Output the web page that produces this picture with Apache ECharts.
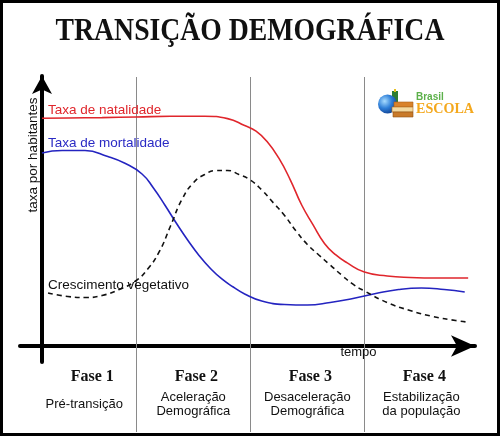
<!DOCTYPE html>
<html><head><meta charset="utf-8">
<script src="https://cdn.jsdelivr.net/npm/echarts@6/dist/echarts.min.js"></script>
<style>html,body{margin:0;padding:0;background:#fff}#c{width:500px;height:436px}</style>
</head><body><div id="c"></div>
<script>
const titleText = 'TRANSIÇÃO DEMOGRÁFICA';
const axisYName = 'taxa por habitantes';
const axisXName = 'tempo';
const phaseNames = ['Fase 1', 'Fase 2', 'Fase 3', 'Fase 4'];
const phaseDescriptions = [['Pré-transição'], ['Aceleração', 'Demográfica'], ['Desaceleração', 'Demográfica'], ['Estabilização', 'da população']];
const phaseStarts = [1.75, 10, 20, 30];
const phaseEnds = [10, 20, 30, 40];
const phaseBoundaries = [10, 20, 30];
const seriesNames = ['Taxa de natalidade', 'Taxa de mortalidade', 'Crescimento vegetativo'];
const birthRate = [[1.73, 37.95], [4, 38.0], [7, 38.07], [10, 38.17], [13, 38.28], [16, 38.3], [18, 37.9], [19.5, 36.75], [20.5, 35.8], [21.5, 34.0], [22.5, 31.3], [23.5, 27.7], [24.5, 23.5], [25.5, 20.2], [26.5, 17.1], [27.5, 15.17], [28.5, 13.85], [30, 12.33], [32, 11.67], [34, 11.42], [36.5, 11.33], [39.1, 11.33]];
const deathRate = [[1.73, 32.17], [3.5, 32.58], [5.5, 32.58], [7.5, 31.58], [9, 30.45], [10.5, 28.67], [11.5, 26.33], [12.5, 23.5], [13.5, 20.5], [14.5, 17.67], [15.5, 15.08], [16.5, 12.92], [17.5, 11.17], [18.5, 9.83], [19.5, 8.67], [21, 7.5], [23, 6.92], [25, 6.83], [27, 7.25], [29, 7.92], [31, 8.75], [33, 9.42], [35, 9.67], [37, 9.42], [38.8, 9.0]];
const naturalGrowth = [[2.26, 8.83], [4, 8.25], [5.5, 8.08], [7, 8.42], [8.5, 9.42], [10, 10.92], [11, 12.83], [12, 15.67], [13, 20.0], [14, 24.42], [15, 27.2], [16, 28.58], [17, 29.25], [18, 29.25], [19, 28.58], [20, 27.67], [21, 26.0], [22, 23.9], [23, 21.75], [24, 19.17], [25, 16.92], [26, 15.17], [27, 13.5], [28, 11.83], [29, 10.3], [30, 9.17], [32, 7.25], [34, 5.92], [36, 4.92], [38, 4.25], [39, 4.0]];

const chart = echarts.init(document.getElementById('c'), null, {renderer: 'canvas'});
const sans = '"Liberation Sans", Arial, sans-serif';
const serif = '"Liberation Serif", "Times New Roman", serif';
function txt(x, y, text, font, fill, align, extra) {
  align = align || 'left';
  return Object.assign({type: 'text', x: x, y: y, silent: true, z: 50,
    style: {text: text, font: font, fill: fill, align: align, verticalAlign: 'middle', textAlign: align, textVerticalAlign: 'middle'}}, extra || {});
}
const option = {
  animation: false,
  backgroundColor: '#fff',
  grid: [
    {left: 20, right: 25, top: 76, bottom: 74},
    {left: 20, right: 21.6, top: 77, bottom: 4}
  ],
  xAxis: [
    {type: 'value', gridIndex: 0, min: -0.2, max: 39.7,
      axisLine: {show: true, onZero: true, lineStyle: {color: '#000', width: 4}, symbol: ['none', 'arrow'], symbolSize: [16, 24]},
      axisTick: {show: false}, axisLabel: {show: false}, splitLine: {show: false}},
    {type: 'value', gridIndex: 1, min: -0.2, max: 40, show: false, splitLine: {show: false}}
  ],
  yAxis: [
    {type: 'value', gridIndex: 0, min: -8 / 3, max: 45, offset: -22,
      axisLine: {show: true, onZero: false, lineStyle: {color: '#000', width: 4}, symbol: ['none', 'arrow'], symbolSize: [15, 18]},
      axisTick: {show: false}, axisLabel: {show: false}, splitLine: {show: false}},
    {type: 'value', gridIndex: 1, min: 0, max: 1, show: false, splitLine: {show: false}}
  ],
  series: [
    {type: 'line', xAxisIndex: 1, yAxisIndex: 1, data: [], silent: true, z: 1,
      markLine: {silent: true, symbol: ['none', 'none'], label: {show: false},
        lineStyle: {color: '#8a8a8a', width: 1, type: 'solid'},
        data: phaseBoundaries.map(v => ({xAxis: v}))},
      markArea: {silent: true, itemStyle: {color: 'rgba(0,0,0,0)', borderWidth: 0},
        label: {show: true, position: 'insideBottom', distance: 14,
          formatter: p => {
            const d = phaseDescriptions[p.dataIndex];
            const st = d.length > 1 ? 's' : 's1';
            return '{f|' + phaseNames[p.dataIndex] + '}\n' + d.map(t => '{' + st + '|' + t + '}').join('\n');
          },
          rich: {
            f: {fontFamily: serif, fontWeight: 'bold', fontSize: 16, lineHeight: 28, color: '#111', align: 'center', padding: [0, 0, 0, 6]},
            s: {fontFamily: sans, fontSize: 13, lineHeight: 13.5, color: '#111', align: 'center'},
            s1: {fontFamily: sans, fontSize: 13, lineHeight: 27, color: '#111', align: 'center', padding: [0, 10, 0, 0]}
          }},
        data: phaseNames.map((n, i) => [{name: n, xAxis: phaseStarts[i]}, {xAxis: phaseEnds[i]}])}
    },
    {type: 'line', name: seriesNames[0], xAxisIndex: 0, yAxisIndex: 0, data: birthRate, smooth: 0.5, symbol: 'none', silent: true, z: 5,
      lineStyle: {color: '#e0262c', width: 1.6}},
    {type: 'line', name: seriesNames[1], xAxisIndex: 0, yAxisIndex: 0, data: deathRate, smooth: 0.5, symbol: 'none', silent: true, z: 5,
      lineStyle: {color: '#2424c0', width: 1.6}},
    {type: 'line', name: seriesNames[2], xAxisIndex: 0, yAxisIndex: 0, data: naturalGrowth, smooth: 0.5, symbol: 'none', silent: true, z: 5,
      lineStyle: {color: '#111', width: 1.6, type: [5, 4]}}
  ],
  graphic: [
    {type: 'rect', silent: true, z: 100, shape: {x: 1.5, y: 1.5, width: 497, height: 433}, style: {fill: 'none', stroke: '#000', lineWidth: 3}},
    txt(250, 32, titleText, 'bold 31px ' + serif, '#111', 'center', {scaleX: 0.894}),
    txt(48, 110, seriesNames[0], '13.5px ' + sans, '#e0262c'),
    txt(48, 143, seriesNames[1], '13.5px ' + sans, '#2a2ac4'),
    txt(48, 285, seriesNames[2], '13.5px ' + sans, '#111'),
    txt(33, 155, axisYName, '13.5px ' + sans, '#111', 'center', {rotation: Math.PI / 2}),
    txt(358.5, 352, axisXName, '13px ' + sans, '#111', 'center'),
    // logo
    {type: 'rect', silent: true, z: 40, shape: {x: 392, y: 91, width: 6, height: 13}, style: {fill: '#2e7d32'}},
    {type: 'rect', silent: true, z: 40, shape: {x: 394, y: 89, width: 2, height: 3}, style: {fill: '#e8c020'}},
    {type: 'circle', silent: true, z: 41, shape: {cx: 387.5, cy: 104, r: 9.5},
      style: {fill: new echarts.graphic.RadialGradient(0.35, 0.35, 0.75, [{offset: 0, color: '#a8dcff'}, {offset: 0.5, color: '#2f7fd8'}, {offset: 1, color: '#0d3a8a'}])}},
    {type: 'rect', silent: true, z: 42, shape: {x: 394, y: 102, width: 19, height: 5}, style: {fill: '#d9822b', stroke: '#a85f18', lineWidth: 0.6}},
    {type: 'rect', silent: true, z: 42, shape: {x: 392, y: 107, width: 21, height: 5}, style: {fill: '#f3d9a0', stroke: '#b36b1e', lineWidth: 0.6}},
    {type: 'rect', silent: true, z: 42, shape: {x: 393, y: 112, width: 20, height: 5}, style: {fill: '#c97a2a', stroke: '#8f5314', lineWidth: 0.6}},
    txt(416, 97, 'Brasil', 'bold 10px ' + sans, '#5cb04a'),
    txt(416, 109, 'ESCOLA', 'bold 15px ' + serif, '#f4a81d', 'left', {scaleX: 0.94})
  ]
};
chart.setOption(option);
</script>
</body></html>
